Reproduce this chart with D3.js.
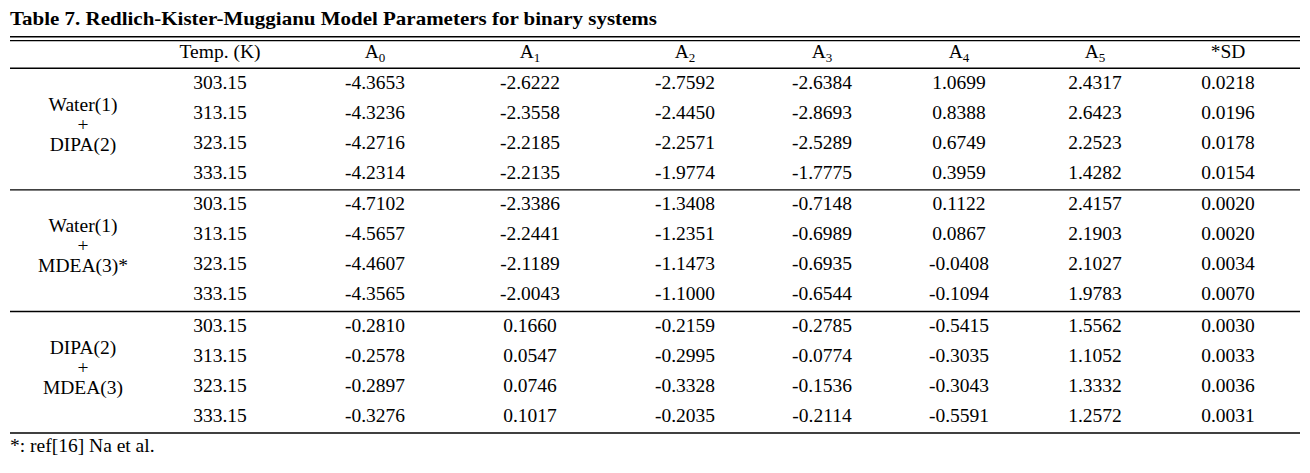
<!DOCTYPE html>
<html>
<head>
<meta charset="utf-8">
<script src="https://cdn.jsdelivr.net/npm/d3@7/dist/d3.min.js"></script>
<style>
    body { margin: 0; background: #fff; }
    svg text { font-family: "Liberation Serif", "Times New Roman", serif; fill: #000; }
</style>
</head>
<body>
<div class="mainBody"></div>
<script>
// table content
var title = "Table 7. Redlich-Kister-Muggianu Model Parameters for binary systems";
var footnote = "*: ref[16] Na et al.";
var systems = [
    ["Water(1)", "+", "DIPA(2)"],
    ["Water(1)", "+", "MDEA(3)*"],
    ["DIPA(2)", "+", "MDEA(3)"]
];
var temps = ["303.15", "313.15", "323.15", "333.15"];
var headers = [
    { key: "temp", text: "Temp. (K)" },
    { key: "A0", text: "A", sub: "0" },
    { key: "A1", text: "A", sub: "1" },
    { key: "A2", text: "A", sub: "2" },
    { key: "A3", text: "A", sub: "3" },
    { key: "A4", text: "A", sub: "4" },
    { key: "A5", text: "A", sub: "5" },
    { key: "SD", text: "*SD" }
];
// 12 rows each: 3 systems x 4 temperatures
var A0 = [-4.3653, -4.3236, -4.2716, -4.2314, -4.7102, -4.5657, -4.4607, -4.3565, -0.2810, -0.2578, -0.2897, -0.3276];
var A1 = [-2.6222, -2.3558, -2.2185, -2.2135, -2.3386, -2.2441, -2.1189, -2.0043, 0.1660, 0.0547, 0.0746, 0.1017];
var A2 = [-2.7592, -2.4450, -2.2571, -1.9774, -1.3408, -1.2351, -1.1473, -1.1000, -0.2159, -0.2995, -0.3328, -0.2035];
var A3 = [-2.6384, -2.8693, -2.5289, -1.7775, -0.7148, -0.6989, -0.6935, -0.6544, -0.2785, -0.0774, -0.1536, -0.2114];
var A4 = [1.0699, 0.8388, 0.6749, 0.3959, 0.1122, 0.0867, -0.0408, -0.1094, -0.5415, -0.3035, -0.3043, -0.5591];
var A5 = [2.4317, 2.6423, 2.2523, 1.4282, 2.4157, 2.1903, 2.1027, 1.9783, 1.5562, 1.1052, 1.3332, 1.2572];
var SD = [0.0218, 0.0196, 0.0178, 0.0154, 0.0020, 0.0020, 0.0034, 0.0070, 0.0030, 0.0033, 0.0036, 0.0031];

var width = 1310, height = 473;
var left = 10, right = 1300;
var fontSize = 19.5;

var fmt = d3.formatLocale({ decimal: ".", thousands: ",", grouping: [3], currency: ["", ""], minus: "-" }).format(".4f");

var colX = d3.scaleOrdinal()
    .domain(headers.map(function (d) { return d.key; }))
    .range([220, 375, 530, 685, 822, 959, 1095, 1228]);

var groupY = d3.scaleLinear().domain([0, 3]).range([68.3, 433]);
var rowStep = 30;

var svg = d3.select("div.mainBody").append("svg")
    .attr("width", width)
    .attr("height", height);

function rule(y) {
    svg.append("line")
        .attr("x1", left).attr("x2", right)
        .attr("y1", y).attr("y2", y)
        .attr("stroke", "#000")
        .attr("stroke-width", 1.4);
}

// title
svg.append("text")
    .attr("x", left)
    .attr("y", 25)
    .attr("font-size", 19)
    .attr("font-weight", "bold")
    .attr("textLength", 647)
    .attr("lengthAdjust", "spacingAndGlyphs")
    .text(title);

rule(36.8);
rule(40.6);

// header row
var head = svg.selectAll("text.head")
    .data(headers).enter().append("text")
    .attr("class", "head")
    .attr("x", function (d) { return colX(d.key); })
    .attr("y", 58.3)
    .attr("font-size", fontSize)
    .attr("text-anchor", "middle");
head.append("tspan").text(function (d) { return d.text; });
head.filter(function (d) { return d.sub; })
    .append("tspan")
    .attr("dy", 4)
    .attr("font-size", 13)
    .text(function (d) { return d.sub; });

d3.range(4).forEach(function (g) { rule(groupY(g)); });

// body rows
var columns = { A0: A0, A1: A1, A2: A2, A3: A3, A4: A4, A5: A5, SD: SD };
var rows = d3.range(12).map(function (i) {
    return { group: Math.floor(i / 4), idx: i % 4, i: i };
});

var rowSel = svg.selectAll("g.row")
    .data(rows).enter().append("g")
    .attr("class", "row")
    .attr("transform", function (d) {
        return "translate(0," + (groupY(d.group) + 20.6 + d.idx * rowStep) + ")";
    });

rowSel.selectAll("text")
    .data(function (d) {
        return headers.map(function (h) {
            return {
                key: h.key,
                text: h.key === "temp" ? temps[d.idx] : fmt(columns[h.key][d.i])
            };
        });
    }).enter().append("text")
    .attr("x", function (d) { return colX(d.key); })
    .attr("font-size", fontSize)
    .attr("text-anchor", "middle")
    .text(function (d) { return d.text; });

// system labels
var sysSel = svg.selectAll("g.system")
    .data(systems).enter().append("g")
    .attr("class", "system")
    .attr("transform", function (d, i) {
        return "translate(83," + ((groupY(i) + groupY(i + 1)) / 2) + ")";
    });
sysSel.selectAll("text")
    .data(function (d) { return d; })
    .enter().append("text")
    .attr("y", function (d, i) { return (i - 1) * 20 + 1.8; })
    .attr("font-size", fontSize)
    .attr("text-anchor", "middle")
    .text(function (d) { return d; });

// footnote
svg.append("text")
    .attr("x", left)
    .attr("y", 452)
    .attr("font-size", fontSize)
    .text(footnote);
</script>
</body>
</html>
